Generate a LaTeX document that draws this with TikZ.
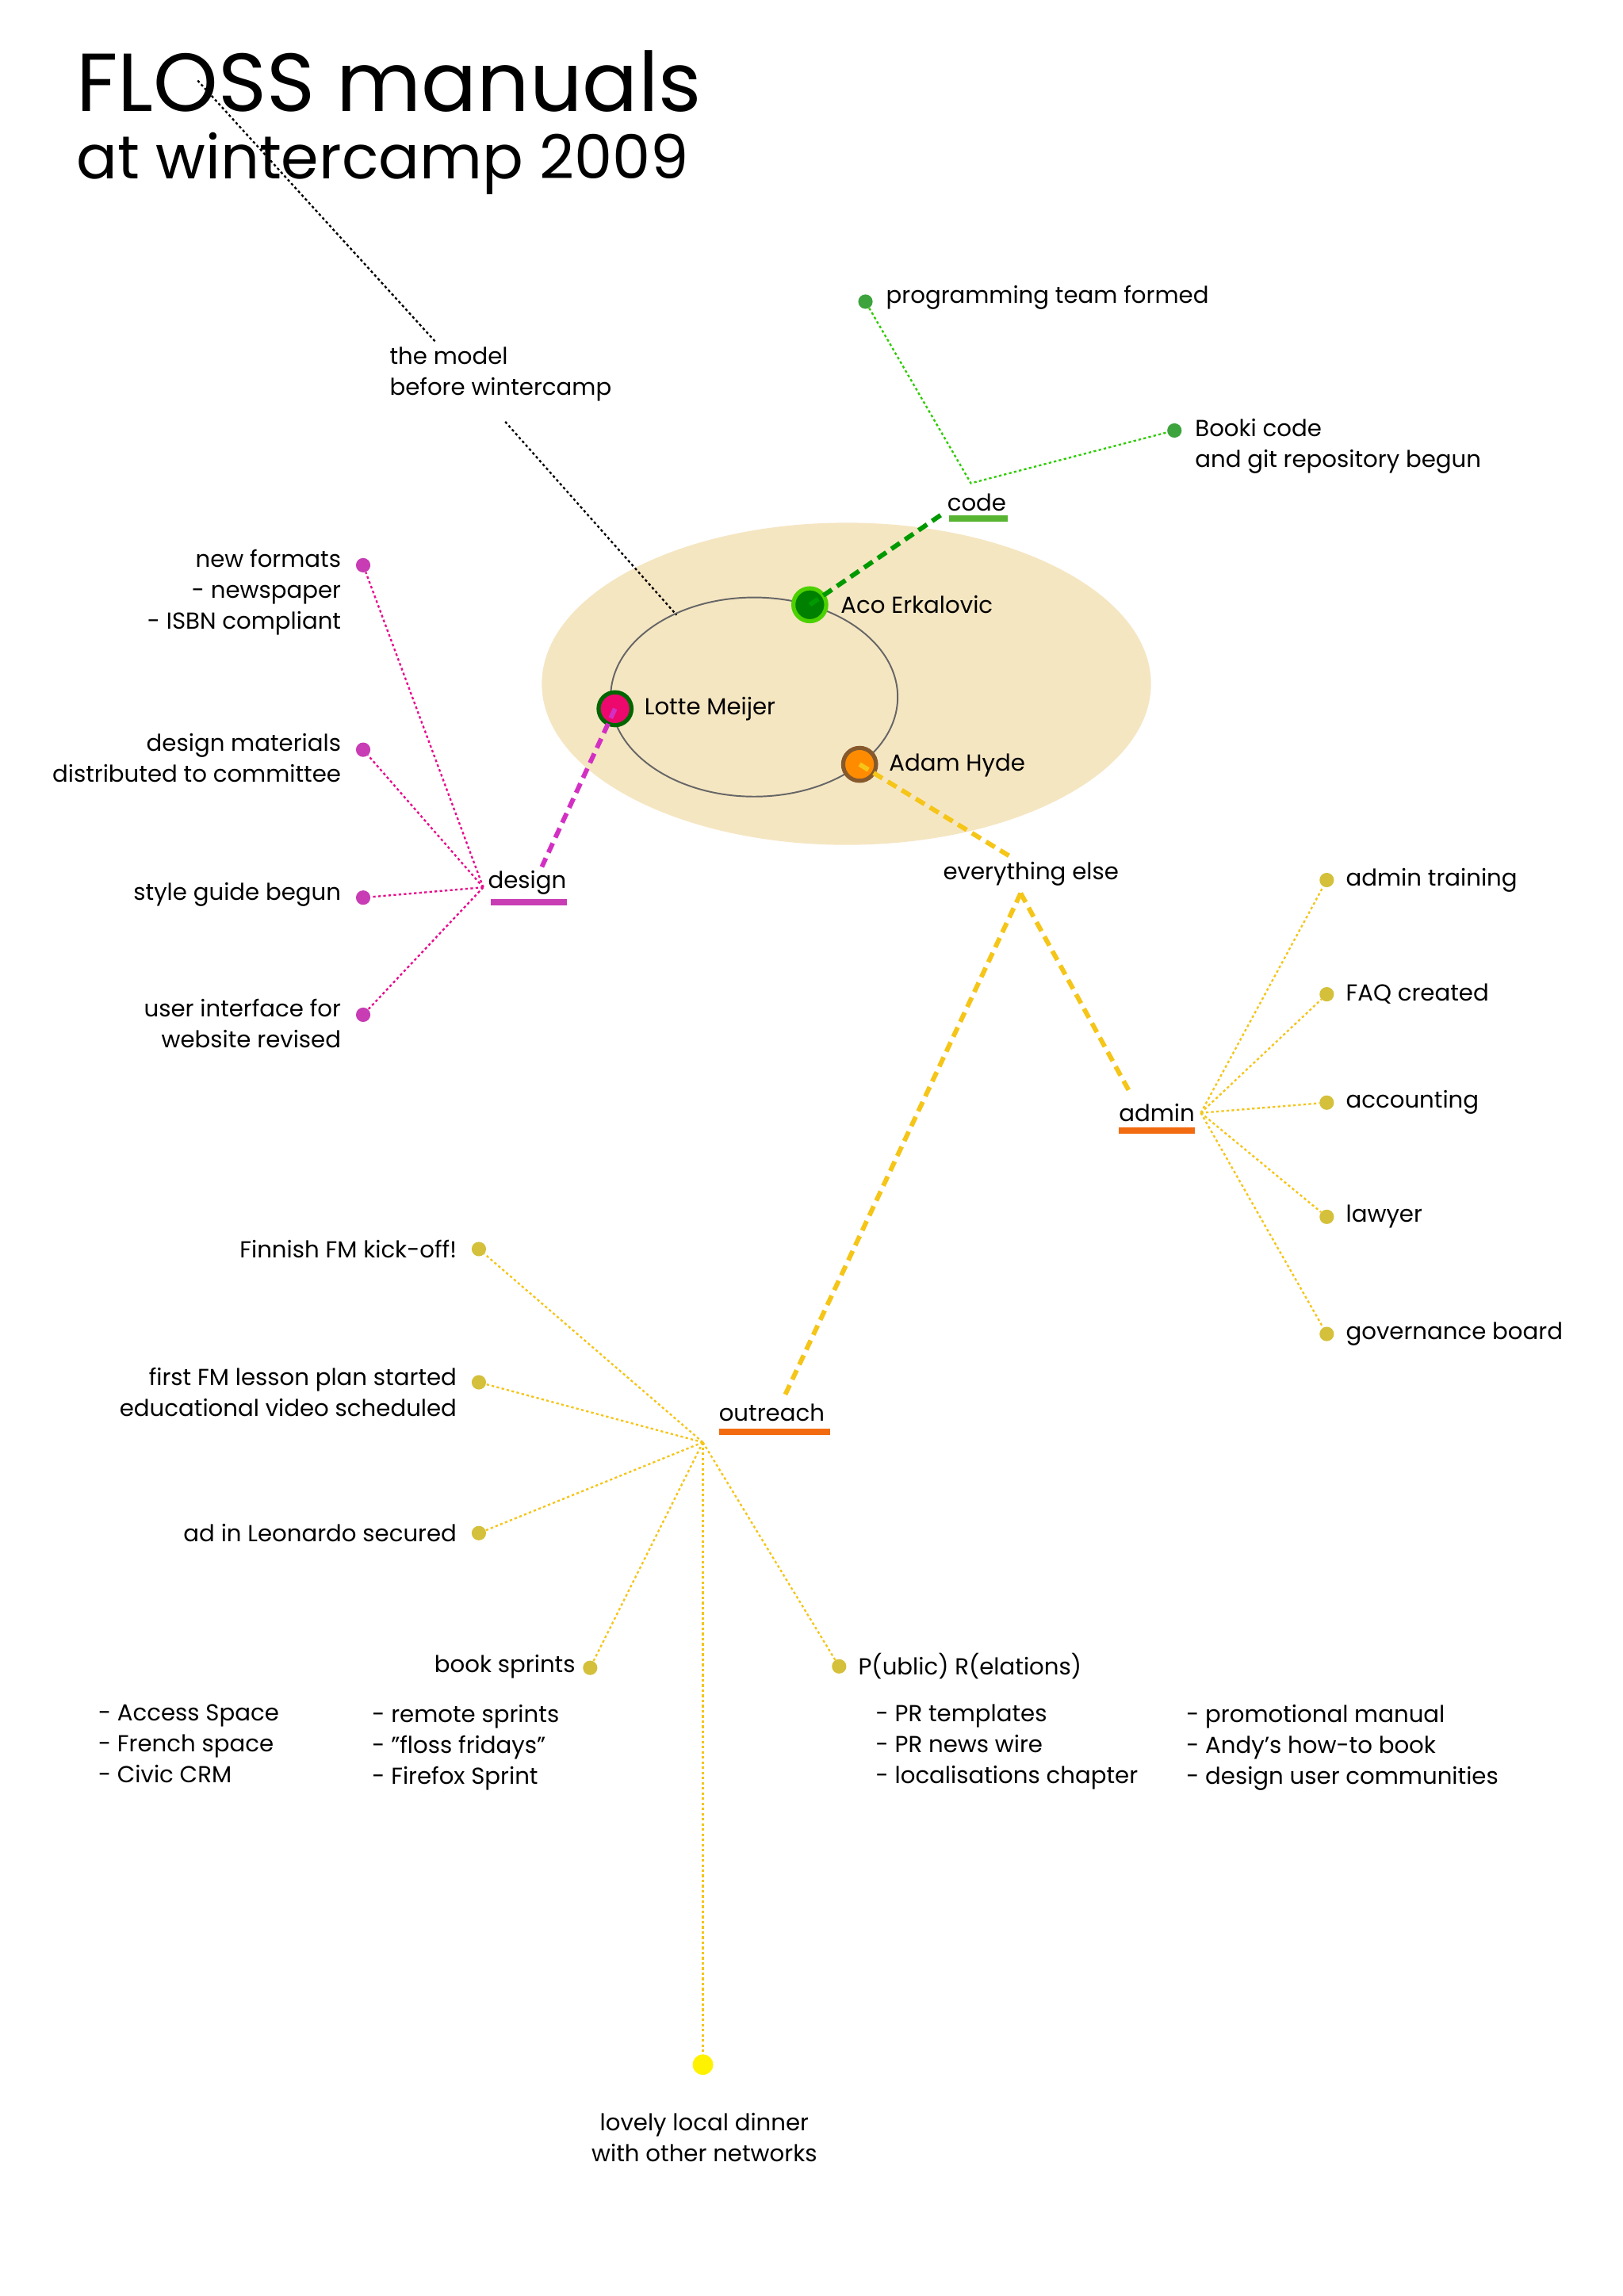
\documentclass[tikz,border=0pt]{standalone}
\usepackage{fontspec}
\setmainfont{Poppins}
\begin{document}
\begin{tikzpicture}[x=0.05cm,y=-0.05cm,
 t/.style={font=\fontsize{22.5}{30}\selectfont,inner sep=0pt,align=left},
 tr/.style={t,align=right},
 dot/.style={circle,inner sep=0pt,minimum size=16},
 sd/.style={dot,minimum size=14pt},
 dl/.style={line width=1.8pt,dash pattern=on 2.5pt off 2.5pt},
 dsh/.style={line width=4.5pt,dash pattern=on 10pt off 6pt},
 ul/.style={line width=6pt}]
\definecolor{beige}{HTML}{F5E6C2}
\definecolor{grn}{HTML}{3DA33D}
\definecolor{mag}{HTML}{C83CB4}
\definecolor{yel}{HTML}{D4C03A}
\definecolor{ora}{HTML}{F26B10}
\definecolor{gold}{HTML}{F5C518}
\useasboundingbox[fill=white] (0,0) rectangle (1108,1568);
% title
\node[anchor=base west,inner sep=0pt,font=\fontsize{80}{80}\selectfont] (t1) at (52,76) {FLOSS manuals};
\node[anchor=base west,inner sep=0pt,font=\fontsize{59}{59}\selectfont] (t2) at (52,122) {at wintercamp 2009};
% ellipses
\fill[beige] (578,467) ellipse [x radius=208,y radius=110];
\draw[gray!80!black,line width=1.5pt] (515,476) ellipse [x radius=98,y radius=68];
% model
\node[t,anchor=north west] (model) at (266,237) {the model\\before wintercamp};
\coordinate (m1) at (135,55); \coordinate (m2) at (297,233);
\coordinate (m3) at (345,288); \coordinate (m4) at (462,420);
\draw[dl] (m1)--(m2); \draw[dl] (m3)--(m4);
% people
\node[dot,fill=green!50!black,draw=green!70!black!60!lime,line width=4pt,minimum size=32pt] (aco) at (553,413) {};
\node[t,anchor=west] (acol) at (574,413) {Aco Erkalovic};
\node[dot,fill=magenta!70!red,draw=green!40!black,line width=4pt,minimum size=32pt] (lotte) at (420,484) {};
\node[t,anchor=west] (lottel) at (440,484) {Lotte Meijer};
\node[dot,fill=orange!90!yellow,draw=brown!70!black,line width=4pt,minimum size=32pt] (adam) at (587,522) {};
\node[t,anchor=west] (adaml) at (607,523) {Adam Hyde};
% code
\node[t] (code) at (667,343) {code};
\draw[ul,grn!80!lime] (648,354)--(688,354);
\coordinate (codeh) at (663,330);
\draw[dsh,green!60!black] (aco.center)--(645,350);
\node[sd,fill=grn] (c1) at (591,206) {};
\node[sd,fill=grn] (c2) at (802,294) {};
\draw[dl,green!70!lime!80!black] (c1)--(codeh)--(c2);
\node[t,anchor=west] at (605,203) {programming team formed};
\node[t,anchor=north west] at (816,286) {Booki code\\and git repository begun};
% design
\node[t] (design) at (360,603) {design};
\draw[ul,mag] (335,616)--(387,616);
\draw[dsh,mag!80!magenta] (lotte.center)--(370,592);
\coordinate (dh) at (330,606);
\foreach \n/\y in {d1/386,d2/512,d3/613,d4/693}{
 \node[sd,fill=mag] (\n) at (248,\y) {};
 \draw[dl,magenta!90!mag] (dh)--(\n);}
\node[tr,anchor=north east] at (233,375) {new formats\\- newspaper\\- ISBN compliant};
\node[tr,anchor=north east] at (233,501) {design materials\\distributed to committee};
\node[tr,anchor=east] at (233,611) {style guide begun};
\node[tr,anchor=north east] at (233,682) {user interface for\\website revised};
% everything else
\node[t] (ee) at (704,597) {everything else};
\draw[dsh,gold] (adam.center)--(690,585);
\coordinate (eh) at (697,610);
\coordinate (ad) at (771,745); \coordinate (ou) at (535,955);
\draw[dsh,gold] (eh)--(ad); \draw[dsh,gold] (eh)--(ou);
% admin
\node[t] (admin) at (790,760) {admin};
\draw[ul,ora] (764,772)--(816,772);
\coordinate (ah) at (820,760);
\foreach \n/\y/\l in {a1/601/admin training,a2/679/FAQ created,a3/753/accounting,a4/831/lawyer,a5/911/governance board}{
 \node[sd,fill=yel] (\n) at (906,\y) {};
 \draw[dl,gold] (ah)--(\n);
 \node[t,anchor=west] at (919,\y) {\l};}
% outreach
\node[t] (outreach) at (527,965) {outreach};
\draw[ul,ora] (491,978)--(567,978);
\coordinate (oh) at (480,985);
\foreach \n/\x/\y in {o1/327/853,o2/327/944,o3/327/1047,o4/403/1139,o5/573/1138}{
 \node[sd,fill=yel] (\n) at (\x,\y) {};
 \draw[dl,gold] (oh)--(\n);}
\node[dot,fill=yellow,minimum size=20pt] (o6) at (480,1410) {};
\draw[dl,gold] (oh)--(o6);
\node[tr,anchor=east] at (312,853) {Finnish FM kick-off!};
\node[tr,anchor=north east] at (312,934) {first FM lesson plan started\\educational video scheduled};
\node[tr,anchor=east] at (312,1047) {ad in Leonardo secured};
\node[tr,anchor=east] at (393,1138) {book sprints};
\node[t,anchor=west] at (586,1138) {P(ublic) R(elations)};
\node[t,anchor=north west] at (67,1164) {- Access Space\\- French space\\- Civic CRM};
\node[t,anchor=north west] at (254,1164) {- remote sprints\\- "floss fridays"\\- Firefox Sprint};
\node[t,anchor=north west] at (598,1164) {- PR templates\\- PR news wire\\- localisations chapter};
\node[t,anchor=north west] at (810,1164) {- promotional manual\\- Andy's how-to book\\- design user communities};
\node[t,align=center,anchor=north] at (481,1443) {lovely local dinner\\with other networks};
\end{tikzpicture}
\end{document}
